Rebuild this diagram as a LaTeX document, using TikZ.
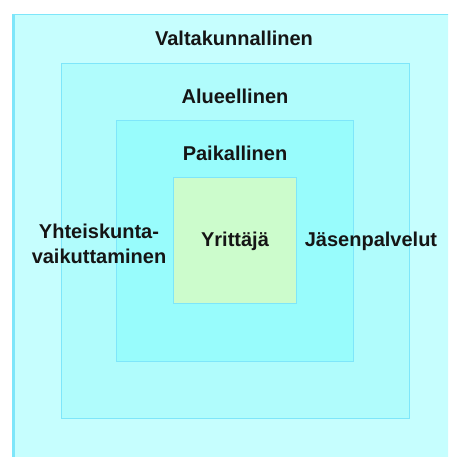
\documentclass[tikz,border=0pt]{standalone}
\usepackage{fontspec}
\setmainfont{Liberation Sans}
\definecolor{outerfill}{HTML}{C6FEFE}
\definecolor{midfill}{HTML}{B0FCFC}
\definecolor{innerfill}{HTML}{98FCFC}
\definecolor{corefill}{HTML}{CCFCCC}
\definecolor{edge}{HTML}{7EE6FA}
\definecolor{txt}{HTML}{151515}
\tikzset{
  ring/.style={draw=edge, line width=1.3pt, rectangle, inner sep=0pt, anchor=north west},
  lbl/.style={font=\fontsize{20}{25}\selectfont\bfseries, text=txt, inner sep=0pt, align=center},
}
\begin{document}
\begin{tikzpicture}[x=1pt,y=-1pt]
\useasboundingbox (0,0) rectangle (448,457);
\clip (0,0) rectangle (448,457);
\node[ring, fill=outerfill, minimum width=460pt, minimum height=460pt] (outer) at (13,14) {};
\draw[edge, line width=2.5pt] (13.5,14) -- (13.5,470);
\node[ring, fill=midfill, minimum width=348pt, minimum height=355pt] (mid) at (61,63) {};
\node[ring, fill=innerfill, minimum width=237pt, minimum height=241pt] (inner) at (116,120) {};
\node[ring, fill=corefill, minimum width=123pt, minimum height=126pt] (core) at (173,177) {};
\node[lbl] (valta) at (234,38) {Valtakunnallinen};
\node[lbl] (alue) at (235,96) {Alueellinen};
\node[lbl] (paik) at (235,153) {Paikallinen};
\node[lbl] (yrit) at (235,241) {Yrittäjä};
\node[lbl] (jasen) at (371,241) {Jäsenpalvelut};
\node[lbl] (yhteis) at (99,244) {Yhteiskunta-\\vaikuttaminen};
\end{tikzpicture}
\end{document}
